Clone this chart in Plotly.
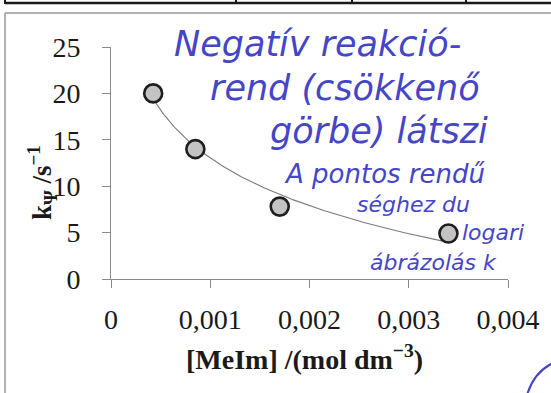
import numpy as np
import plotly.graph_objects as go

# ---- data ----
conc = [0.000425, 0.00085, 0.0017, 0.0034]          # [MeIm] / mol dm^-3
k_psi = [20.0, 14.0, 7.8, 4.9]                      # k_psi / s^-1
x_ticks = [0, 0.001, 0.002, 0.003, 0.004]
x_tick_labels = ["0", "0,001", "0,002", "0,003", "0,004"]
y_ticks = [0, 5, 10, 15, 20, 25]
y_tick_labels = ["0", "5", "10", "15", "20", "25"]
notes = ["Negatív reakció-", "rend (csökkenő", "görbe) látszi",
         "A pontos rendű", "séghez du", "logari", "ábrázolás k"]

# ---- geometry helpers (pixel -> paper) ----
W, H = 551, 393
L, R, T, B = 111, 43, 47, 114
PW, PH = W - L - R, H - T - B
def px(x):
    return (x - L) / PW
def py(y):
    return (T + PH - y) / PH

# logarithmic trendline fitted to the data
coef = np.polyfit(np.log(conc), k_psi, 1)
xf = np.linspace(min(conc), max(conc), 200)
yf = coef[0] * np.log(xf) + coef[1]

fig = go.Figure()
fig.add_trace(go.Scatter(x=xf, y=yf, mode="lines",
                         line=dict(color="#7c7c7c", width=1.1),
                         hoverinfo="skip", showlegend=False))
fig.add_trace(go.Scatter(x=conc, y=k_psi, mode="markers",
                         marker=dict(size=18, color="#c3c3c3",
                                     line=dict(color="#1e1e1e", width=2.6)),
                         cliponaxis=False, showlegend=False))

serif = "Liberation Serif"
axis_common = dict(showgrid=False, zeroline=False, showline=True,
                   linecolor="#8a8a8a", linewidth=1,
                   ticks="outside", ticklen=8, tickcolor="#8a8a8a", tickwidth=1,
                   tickfont=dict(family=serif, size=28, color="#1a1a1a"))

fig.update_layout(
    width=W, height=H,
    margin=dict(l=L, r=R, t=T, b=B, pad=0),
    paper_bgcolor="white", plot_bgcolor="white",
    xaxis=dict(range=[0, 0.004], tickvals=x_ticks, ticktext=x_tick_labels,
               ticklabelstandoff=7, **axis_common),
    yaxis=dict(range=[0, 25], tickvals=y_ticks, ticktext=y_tick_labels,
               ticklabelstandoff=16, **axis_common),
)

annotations = [
    dict(text="k<sub>Ψ</sub> /s<sup>−1</sup>", x=px(42), y=py(183),
         xref="paper", yref="paper", showarrow=False, textangle=-90,
         font=dict(family=serif, size=27, color="#1a1a1a", weight="bold"),
         xanchor="center", yanchor="middle"),
    dict(text="[MeIm] /(mol dm<sup>−3</sup>)", x=px(304), y=py(357),
         xref="paper", yref="paper", showarrow=False,
         font=dict(family=serif, size=28, color="#1a1a1a", weight="bold"),
         xanchor="center", yanchor="middle"),
]

# handwritten notes (blue ink)
note_pos = [(172, 44), (208, 88), (268, 131), (282, 174), (355, 204), (460, 232), (368, 262)]
note_size = [35, 35, 35, 26, 22, 22, 22]
for txt, (nx, ny), fs in zip(notes, note_pos, note_size):
    annotations.append(dict(text=txt, x=px(nx), y=py(ny), xref="paper", yref="paper",
                            showarrow=False, xanchor="left", yanchor="middle",
                            font=dict(family="DejaVu Sans", size=fs, color="#4545c8",
                                      style="italic")))
fig.update_layout(annotations=annotations)

# scanned page frame / table lines
shapes = [
    dict(type="line", xref="paper", yref="paper", x0=px(5), x1=px(560), y0=py(3), y1=py(3),
         line=dict(color="#1a1a1a", width=2.5)),
    dict(type="line", xref="paper", yref="paper", x0=px(5), x1=px(560), y0=py(13), y1=py(13),
         line=dict(color="#9a9a9a", width=1.5)),
    dict(type="line", xref="paper", yref="paper", x0=px(5), x1=px(5), y0=py(13), y1=py(400),
         line=dict(color="#9a9a9a", width=1.5)),
]
for vx in [5, 236, 352, 466]:
    shapes.append(dict(type="line", xref="paper", yref="paper", x0=px(vx), x1=px(vx),
                       y0=py(-2), y1=py(4), line=dict(color="#1a1a1a", width=2)))
shapes.append(dict(type="path", xref="paper", yref="paper",
                   path=f"M {px(527)},{py(395)} Q {px(534)},{py(372)} {px(553)},{py(363)}",
                   line=dict(color="#4545c8", width=2)))
fig.update_layout(shapes=shapes)

fig.write_html("out.html")
